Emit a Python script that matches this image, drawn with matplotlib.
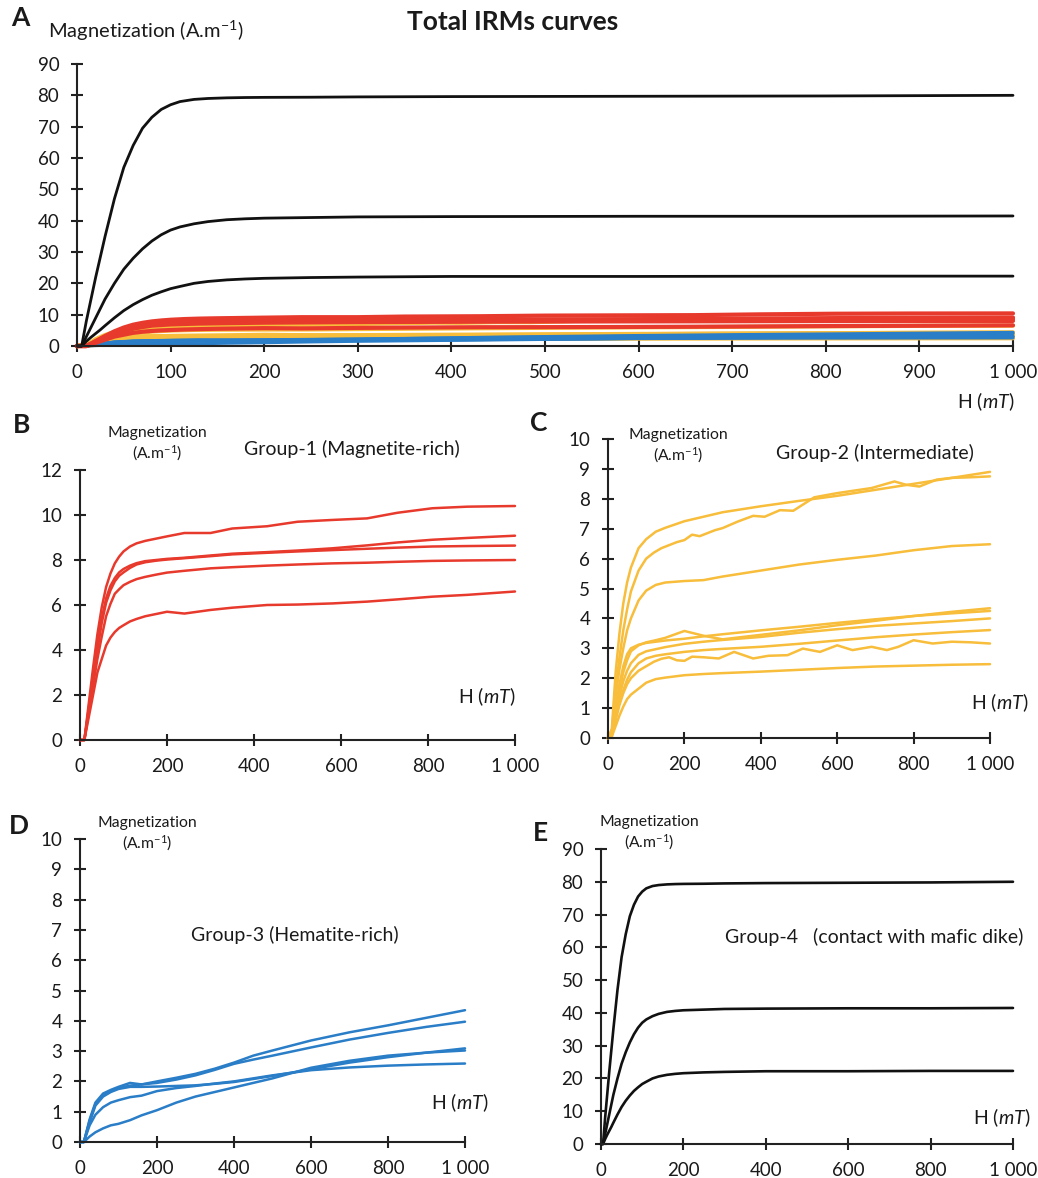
import numpy as np, matplotlib
matplotlib.use('Agg')
import matplotlib.pyplot as plt

W, H = 1038, 1178
FONT = 'Lato'
plt.rcParams['font.family'] = [FONT, 'DejaVu Sans']
plt.rcParams['mathtext.fontset'] = 'custom'
plt.rcParams['mathtext.rm'] = FONT
plt.rcParams['mathtext.it'] = FONT + ':italic'
plt.rcParams['mathtext.bf'] = FONT + ':bold'

C_RED = '#E8392D'; C_YEL = '#F7BD3B'; C_BLU = '#2A7DC7'; C_BLK = '#111111'; C_AX = '#222222'

# ---- Group-1 (magnetite-rich), red
H_RED = [0, 10, 20, 30, 40, 50, 60, 70, 80, 90, 100, 115, 130, 150, 175, 200, 240, 300, 350, 430, 500, 580, 660, 730, 810, 890, 1000]
RED_1 = [0, 0, 1.6, 3.2, 4.7, 5.9, 6.8, 7.4, 7.85, 8.15, 8.38, 8.6, 8.74, 8.85, 8.95, 9.05, 9.2, 9.2, 9.4, 9.5, 9.7, 9.78, 9.85, 10.1, 10.3, 10.37, 10.4]
RED_2 = [0, 0, 1.4, 2.9, 4.2, 5.4, 6.3, 6.85, 7.2, 7.45, 7.6, 7.75, 7.86, 7.95, 8.0, 8.05, 8.1, 8.2, 8.28, 8.35, 8.42, 8.52, 8.65, 8.78, 8.9, 8.98, 9.08]
RED_3 = [0, 0, 1.3, 2.7, 4.0, 5.2, 6.1, 6.65, 7.05, 7.3, 7.45, 7.65, 7.8, 7.9, 7.97, 8.02, 8.08, 8.17, 8.25, 8.32, 8.38, 8.44, 8.5, 8.55, 8.6, 8.62, 8.64]
RED_4 = [0, 0, 1.2, 2.4, 3.6, 4.6, 5.5, 6.05, 6.5, 6.7, 6.88, 7.03, 7.15, 7.25, 7.35, 7.44, 7.52, 7.63, 7.68, 7.75, 7.8, 7.85, 7.88, 7.92, 7.96, 7.98, 8.0]
RED_5 = [0, 0, 1.0, 2.0, 3.0, 3.6, 4.2, 4.55, 4.8, 4.98, 5.1, 5.27, 5.38, 5.5, 5.6, 5.7, 5.62, 5.78, 5.88, 6.0, 6.02, 6.07, 6.15, 6.25, 6.37, 6.45, 6.6]

# ---- Group-2 (intermediate), yellow
H_YEL = [0, 10, 20, 30, 40, 50, 60, 80, 100, 125, 150, 200, 250, 300, 400, 500, 600, 700, 800, 900, 1000]
YEL_1 = [0, 0.3, 2.2, 3.5, 4.5, 5.2, 5.7, 6.35, 6.65, 6.9, 7.03, 7.25, 7.4, 7.55, 7.75, 7.93, 8.1, 8.3, 8.5, 8.7, 8.9]
YEL_3 = [0, 0.2, 1.4, 2.3, 3.0, 3.6, 4.0, 4.6, 4.93, 5.12, 5.2, 5.25, 5.28, 5.4, 5.6, 5.8, 5.96, 6.1, 6.28, 6.42, 6.48]
YEL_4 = [0, 0.1, 0.9, 1.6, 2.2, 2.6, 2.9, 3.1, 3.2, 3.27, 3.35, 3.58, 3.42, 3.3, 3.45, 3.6, 3.77, 3.92, 4.08, 4.22, 4.34]
YEL_5 = [0, 0.1, 1.0, 1.8, 2.4, 2.8, 3.0, 3.12, 3.18, 3.22, 3.26, 3.32, 3.4, 3.47, 3.6, 3.72, 3.85, 3.97, 4.08, 4.17, 4.25]
YEL_6 = [0, 0.1, 0.8, 1.4, 1.9, 2.25, 2.5, 2.78, 2.9, 2.97, 3.04, 3.15, 3.22, 3.28, 3.38, 3.52, 3.64, 3.75, 3.83, 3.91, 4.0]
YEL_7 = [0, 0.1, 0.7, 1.2, 1.6, 1.95, 2.2, 2.5, 2.66, 2.75, 2.8, 2.88, 2.94, 2.98, 3.05, 3.15, 3.26, 3.37, 3.46, 3.54, 3.61]
YEL_9 = [0, 0.05, 0.4, 0.75, 1.05, 1.3, 1.45, 1.65, 1.85, 1.97, 2.02, 2.1, 2.14, 2.17, 2.22, 2.28, 2.34, 2.39, 2.42, 2.45, 2.47]
# two noisy curves measured on their own field steps
H_YEL_2 = [0, 10, 20, 30, 40, 50, 60, 80, 100, 120, 140, 160, 180, 200, 220, 240, 260, 280, 300, 340,
           380, 410, 450, 485, 540, 600, 690, 750, 780, 815, 860, 900, 950, 1000]
YEL_2 = [0, 0.2, 1.6, 2.7, 3.6, 4.3, 4.9, 5.6, 6.0, 6.2, 6.35, 6.45, 6.55, 6.62, 6.8, 6.75, 6.85, 6.95, 7.02, 7.24,
         7.43, 7.4, 7.62, 7.6, 8.05, 8.19, 8.36, 8.58, 8.47, 8.41, 8.64, 8.7, 8.72, 8.75]
H_YEL_8 = [0, 10, 20, 30, 40, 50, 60, 80, 100, 120, 140, 160, 180, 200, 220, 250, 290, 330, 380, 420,
           470, 510, 555, 600, 640, 690, 730, 760, 800, 850, 900, 950, 1000]
YEL_8 = [0, 0.1, 0.6, 1.1, 1.5, 1.8, 2.0, 2.25, 2.4, 2.55, 2.65, 2.7, 2.6, 2.58, 2.72, 2.7, 2.66, 2.88, 2.66, 2.75,
         2.77, 2.99, 2.88, 3.1, 2.94, 3.05, 2.94, 3.05, 3.27, 3.16, 3.22, 3.2, 3.16]

# ---- Group-3 (hematite-rich), blue
H_BLU = [0, 10, 25, 40, 60, 80, 100, 130, 160, 200, 250, 300, 350, 400, 450, 500, 600, 700, 800, 900, 1000]
BLU_1 = [0, 0, 0.7, 1.25, 1.55, 1.68, 1.78, 1.86, 1.9, 2.0, 2.12, 2.25, 2.42, 2.62, 2.85, 3.02, 3.35, 3.62, 3.85, 4.1, 4.35]
BLU_2 = [0, 0, 0.75, 1.3, 1.6, 1.72, 1.82, 1.95, 1.9, 1.95, 2.06, 2.2, 2.38, 2.58, 2.72, 2.85, 3.12, 3.38, 3.6, 3.8, 3.97]
BLU_3 = [0, 0, 0.65, 1.2, 1.5, 1.65, 1.75, 1.82, 1.82, 1.83, 1.85, 1.87, 1.92, 1.98, 2.08, 2.18, 2.4, 2.62, 2.8, 2.95, 3.09]
BLU_4 = [0, 0, 0.55, 0.9, 1.15, 1.3, 1.38, 1.48, 1.53, 1.68, 1.78, 1.85, 1.93, 2.0, 2.1, 2.2, 2.37, 2.46, 2.52, 2.56, 2.59]
BLU_5 = [0, 0, 0.18, 0.32, 0.45, 0.55, 0.6, 0.72, 0.88, 1.05, 1.3, 1.5, 1.65, 1.8, 1.95, 2.1, 2.45, 2.68, 2.85, 2.95, 3.02]

# ---- Group-4 (contact with mafic dike), black
H_BLK = [0, 5, 10, 15, 20, 25, 30, 40, 50, 60, 70, 80, 90, 100, 110, 125, 140, 160, 180, 200, 250, 300, 400, 600, 800, 1000]
BLK_1 = [0, 0, 8, 15, 22, 28.5, 35, 47, 57, 64, 69.5, 73, 75.5, 77, 78, 78.7, 79.0, 79.2, 79.3, 79.35, 79.4, 79.5, 79.6, 79.7, 79.8, 80]
BLK_2 = [0, 0, 3, 6, 9, 12, 15, 20, 24.5, 28, 31, 33.5, 35.5, 37, 38, 39, 39.7, 40.3, 40.6, 40.8, 41.0, 41.2, 41.3, 41.4, 41.4, 41.5]
BLK_3 = [0, 0, 1.5, 2.8, 4, 5.2, 6.5, 9, 11.3, 13.2, 14.8, 16.2, 17.3, 18.3, 19.0, 20, 20.6, 21.1, 21.4, 21.6, 21.85, 22, 22.2, 22.2, 22.3, 22.3]

RED = [(H_RED, RED_1), (H_RED, RED_2), (H_RED, RED_3), (H_RED, RED_4), (H_RED, RED_5)]
YEL = [(H_YEL, YEL_1), (H_YEL_2, YEL_2), (H_YEL, YEL_3), (H_YEL, YEL_4), (H_YEL, YEL_5),
       (H_YEL, YEL_6), (H_YEL, YEL_7), (H_YEL_8, YEL_8), (H_YEL, YEL_9)]
BLU = [(H_BLU, BLU_1), (H_BLU, BLU_2), (H_BLU, BLU_3), (H_BLU, BLU_4), (H_BLU, BLU_5)]
BLK = [(H_BLK, BLK_1), (H_BLK, BLK_2), (H_BLK, BLK_3)]


def px_axes(fig, x0, x1, ytop, ybot):
    return fig.add_axes([x0/W, 1-ybot/H, (x1-x0)/W, (ybot-ytop)/H])

def ftext(fig, x, y, s, **kw):
    kw.setdefault('ha', 'center'); kw.setdefault('va', 'center'); kw.setdefault('color', '#1a1a1a')
    fig.text(x/W, 1-y/H, s, **kw)

def style(ax, ymax, ystep, xstep):
    ax.set_xlim(0, 1000); ax.set_ylim(0, ymax)
    for s in ['top', 'right']: ax.spines[s].set_visible(False)
    for s in ['left', 'bottom']:
        ax.spines[s].set_linewidth(1.5); ax.spines[s].set_color(C_AX)
    xt = np.arange(0, 1001, xstep)
    ax.set_xticks(xt); ax.set_xticklabels(['1 000' if v == 1000 else str(v) for v in xt])
    ax.set_yticks(np.arange(0, ymax+1e-9, ystep))
    ax.yaxis.set_major_formatter(lambda v, p: f'{v:g}')
    ax.tick_params(direction='inout', length=8.5, width=1.5, color=C_AX, labelsize=13.5,
                   pad=8.5, labelcolor='#1a1a1a')
    ax.patch.set_alpha(0)

def curves(ax, group, color, lw):
    for hx, my in group:
        ax.plot(hx, my, color=color, lw=lw, clip_on=False, solid_capstyle='round', solid_joinstyle='round')

def ylabel(fig, x, y, size):
    ftext(fig, x, y, 'Magnetization', fontsize=size)
    ftext(fig, x, y+20, r'(A.m$^{-1}$)', fontsize=size)

HLAB = r'H ($\mathit{mT}$)'

fig = plt.figure(figsize=(W/100, H/100), dpi=100, facecolor='white')

# A: all curves
ax = px_axes(fig, 77, 1013, 64, 346)
style(ax, 90, 10, 100)
curves(ax, YEL, C_YEL, 3.0); curves(ax, BLU, C_BLU, 2.2); curves(ax, RED, C_RED, 3.0)
curves(ax, BLK, C_BLK, 2.0)
ftext(fig, 20, 18, 'A', fontsize=19, fontweight='bold')
ftext(fig, 513, 22, 'Total IRMs curves', fontsize=19, fontweight='bold')
ftext(fig, 48, 31, r'Magnetization (A.m$^{-1}$)', fontsize=14.5, ha='left')
ftext(fig, 1014, 402, HLAB, fontsize=14, ha='right')

# B: group 1
ax = px_axes(fig, 80, 515, 470, 740)
style(ax, 12, 2, 200)
curves(ax, RED, C_RED, 1.8)
ftext(fig, 22, 425, 'B', fontsize=19, fontweight='bold')
ylabel(fig, 157, 433, 11.3)
ftext(fig, 352, 449, 'Group-1 (Magnetite-rich)', fontsize=14)
ftext(fig, 515, 697, HLAB, fontsize=14, ha='right')

# C: group 2
ax = px_axes(fig, 608, 990, 439, 738)
style(ax, 10, 1, 200)
curves(ax, YEL, C_YEL, 1.8)
ftext(fig, 539, 423, 'C', fontsize=19, fontweight='bold')
ylabel(fig, 678, 435, 11.3)
ftext(fig, 875, 453, 'Group-2 (Intermediate)', fontsize=14)
ftext(fig, 1028, 703, HLAB, fontsize=14, ha='right')

# D: group 3
ax = px_axes(fig, 80, 465, 839, 1142)
style(ax, 10, 1, 200)
curves(ax, BLU, C_BLU, 1.8)
ftext(fig, 19, 826, 'D', fontsize=19, fontweight='bold')
ylabel(fig, 147, 823, 11.3)
ftext(fig, 295, 935, 'Group-3 (Hematite-rich)', fontsize=14)
ftext(fig, 488, 1103, HLAB, fontsize=14, ha='right')

# E: group 4
ax = px_axes(fig, 601, 1013, 849, 1144)
style(ax, 90, 10, 200)
curves(ax, BLK, C_BLK, 1.9)
ftext(fig, 540, 833, 'E', fontsize=19, fontweight='bold')
ylabel(fig, 649, 822, 11.3)
ftext(fig, 874, 937, 'Group-4   (contact with mafic dike)', fontsize=14)
ftext(fig, 1030, 1118, HLAB, fontsize=14, ha='right')

fig.savefig('out.png', dpi=100, facecolor='white')
